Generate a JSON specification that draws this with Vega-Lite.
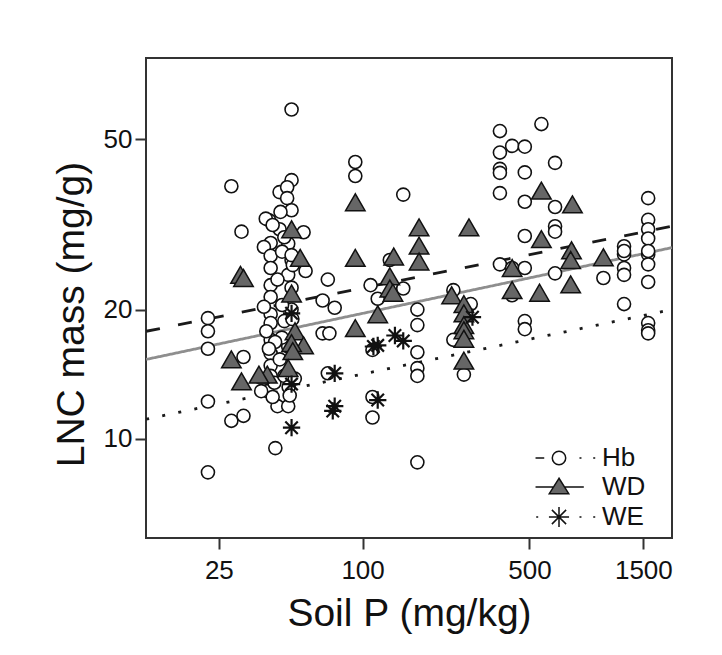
{
  "$schema": "https://vega.github.io/schema/vega-lite/v6.json",
  "width": 526,
  "height": 480,
  "autosize": "none",
  "padding": {"left": 146, "top": 58, "right": 50, "bottom": 117},
  "background": "white",
  "config": {
    "view": {"stroke": "#333", "strokeWidth": 2},
    "font": "Liberation Sans",
    "axis": {
      "domain": false, "grid": false, "tickColor": "#333", "tickWidth": 2, "tickSize": 11,
      "labelFont": "Liberation Sans", "labelFontSize": 26, "labelColor": "#111",
      "titleFont": "Liberation Sans", "titleFontSize": 39, "titleFontWeight": "normal", "titleColor": "#111"
    }
  },
  "resolve": {"scale": {"shape": "independent", "fill": "independent"}},
  "datasets": {
    "pts": [
      {"p":50.4,"n":58.6,"g":"Hb"},{"p":28.2,"n":38.8,"g":"Hb"},{"p":31.1,"n":30.4,"g":"Hb"},{"p":50.4,"n":40.1,"g":"Hb"},
      {"p":44.9,"n":37.6,"g":"Hb"},{"p":48.3,"n":38.6,"g":"Hb"},{"p":48.3,"n":36.4,"g":"Hb"},{"p":50.4,"n":34.1,"g":"Hb"},
      {"p":45.3,"n":33.8,"g":"Hb"},{"p":40.6,"n":32.3,"g":"Hb"},{"p":39.3,"n":32.6,"g":"Hb"},{"p":56.6,"n":30.3,"g":"Hb"},
      {"p":41.2,"n":28.6,"g":"Hb"},{"p":48.8,"n":28.5,"g":"Hb"},{"p":38.6,"n":28.0,"g":"Hb"},{"p":93.2,"n":44.2,"g":"Hb"},
      {"p":93.2,"n":41.0,"g":"Hb"},{"p":148,"n":37.1,"g":"Hb"},{"p":376,"n":52.2,"g":"Hb"},{"p":561,"n":54.2,"g":"Hb"},
      {"p":423,"n":48.2,"g":"Hb"},{"p":478,"n":48.0,"g":"Hb"},{"p":376,"n":46.5,"g":"Hb"},{"p":376,"n":42.6,"g":"Hb"},
      {"p":376,"n":41.7,"g":"Hb"},{"p":478,"n":41.8,"g":"Hb"},{"p":640,"n":44.0,"g":"Hb"},{"p":376,"n":37.4,"g":"Hb"},
      {"p":478,"n":35.7,"g":"Hb"},{"p":640,"n":34.7,"g":"Hb"},{"p":640,"n":31.3,"g":"Hb"},{"p":640,"n":30.4,"g":"Hb"},
      {"p":478,"n":29.7,"g":"Hb"},{"p":1571,"n":36.4,"g":"Hb"},{"p":1571,"n":32.4,"g":"Hb"},{"p":1571,"n":30.8,"g":"Hb"},
      {"p":1571,"n":29.3,"g":"Hb"},{"p":1245,"n":28.1,"g":"Hb"},{"p":1245,"n":26.9,"g":"Hb"},{"p":1571,"n":26.9,"g":"Hb"},
      {"p":41.2,"n":26.7,"g":"Hb"},{"p":50.4,"n":26.1,"g":"Hb"},{"p":57.7,"n":24.6,"g":"Hb"},{"p":41.2,"n":25.0,"g":"Hb"},
      {"p":71.5,"n":23.5,"g":"Hb"},{"p":130,"n":26.1,"g":"Hb"},{"p":108,"n":22.8,"g":"Hb"},{"p":148,"n":22.4,"g":"Hb"},
      {"p":115.7,"n":21.2,"g":"Hb"},{"p":68,"n":21.0,"g":"Hb"},{"p":76.4,"n":20.2,"g":"Hb"},{"p":41.2,"n":22.8,"g":"Hb"},
      {"p":41.2,"n":21.4,"g":"Hb"},{"p":41.2,"n":19.5,"g":"Hb"},{"p":41.2,"n":18.6,"g":"Hb"},{"p":41.2,"n":17.0,"g":"Hb"},
      {"p":41.2,"n":15.8,"g":"Hb"},{"p":41.2,"n":14.8,"g":"Hb"},{"p":39.9,"n":12.9,"g":"Hb"},{"p":44,"n":11.9,"g":"Hb"},
      {"p":48.8,"n":11.9,"g":"Hb"},{"p":48.8,"n":16.4,"g":"Hb"},{"p":48.8,"n":24.1,"g":"Hb"},{"p":50.4,"n":20.0,"g":"Hb"},
      {"p":22.5,"n":19.1,"g":"Hb"},{"p":22.5,"n":17.8,"g":"Hb"},{"p":22.5,"n":16.2,"g":"Hb"},{"p":22.5,"n":12.2,"g":"Hb"},
      {"p":31.7,"n":15.5,"g":"Hb"},{"p":28.2,"n":11.0,"g":"Hb"},{"p":31.7,"n":11.3,"g":"Hb"},{"p":68,"n":17.6,"g":"Hb"},
      {"p":72.6,"n":17.6,"g":"Hb"},{"p":71.5,"n":14.2,"g":"Hb"},{"p":110,"n":16.1,"g":"Hb"},{"p":110,"n":12.5,"g":"Hb"},
      {"p":110,"n":11.2,"g":"Hb"},{"p":169.6,"n":20.0,"g":"Hb"},{"p":169.6,"n":18.4,"g":"Hb"},{"p":169.6,"n":15.9,"g":"Hb"},
      {"p":169.6,"n":14.6,"g":"Hb"},{"p":169.6,"n":14.0,"g":"Hb"},{"p":240,"n":22.2,"g":"Hb"},{"p":240,"n":17.0,"g":"Hb"},
      {"p":265.6,"n":14.1,"g":"Hb"},{"p":283.8,"n":20.6,"g":"Hb"},{"p":376,"n":25.5,"g":"Hb"},{"p":423,"n":25.0,"g":"Hb"},
      {"p":478,"n":25.0,"g":"Hb"},{"p":423,"n":21.6,"g":"Hb"},{"p":478,"n":18.8,"g":"Hb"},{"p":478,"n":18.0,"g":"Hb"},
      {"p":640,"n":24.3,"g":"Hb"},{"p":1020,"n":23.7,"g":"Hb"},{"p":1245,"n":27.4,"g":"Hb"},{"p":1245,"n":25.0,"g":"Hb"},
      {"p":1245,"n":24.1,"g":"Hb"},{"p":1245,"n":20.6,"g":"Hb"},{"p":1571,"n":27.4,"g":"Hb"},{"p":1571,"n":25.5,"g":"Hb"},
      {"p":1571,"n":23.2,"g":"Hb"},{"p":1571,"n":18.6,"g":"Hb"},{"p":1571,"n":17.9,"g":"Hb"},{"p":1571,"n":17.6,"g":"Hb"},
      {"p":45.9,"n":17.2,"g":"Hb"},{"p":41.2,"n":14.0,"g":"Hb"},{"p":42.7,"n":13.5,"g":"Hb"},{"p":42,"n":12.5,"g":"Hb"},
      {"p":37.6,"n":12.9,"g":"Hb"},{"p":22.5,"n":8.34,"g":"Hb"},{"p":43.1,"n":9.5,"g":"Hb"},{"p":169.6,"n":8.8,"g":"Hb"},
      {"p":44,"n":23.5,"g":"Hb"},{"p":46,"n":20.5,"g":"Hb"},{"p":47,"n":18.8,"g":"Hb"},{"p":43,"n":16.8,"g":"Hb"},
      {"p":45,"n":15.3,"g":"Hb"},{"p":47,"n":14.0,"g":"Hb"},{"p":49,"n":13.2,"g":"Hb"},{"p":50.4,"n":22.5,"g":"Hb"},
      {"p":46,"n":27.3,"g":"Hb"},{"p":44.9,"n":30.8,"g":"Hb"},{"p":42,"n":31.5,"g":"Hb"},{"p":51,"n":25.4,"g":"Hb"},
      {"p":38.6,"n":20.3,"g":"Hb"},{"p":39.5,"n":17.8,"g":"Hb"},{"p":40.5,"n":16.2,"g":"Hb"},{"p":47,"n":29.5,"g":"Hb"},
      {"p":50.4,"n":26.8,"g":"Hb"},{"p":52,"n":13.8,"g":"Hb"},{"p":49.5,"n":12.6,"g":"Hb"},{"p":50.8,"n":19.0,"g":"Hb"},
      {"p":93.2,"n":35.6,"g":"WD"},{"p":561,"n":37.9,"g":"WD"},{"p":757,"n":35.2,"g":"WD"},{"p":50.4,"n":30.8,"g":"WD"},
      {"p":172.4,"n":31.1,"g":"WD"},{"p":279,"n":31.1,"g":"WD"},{"p":172.4,"n":28.2,"g":"WD"},{"p":561,"n":29.2,"g":"WD"},
      {"p":750,"n":27.5,"g":"WD"},{"p":135,"n":26.6,"g":"WD"},{"p":93.2,"n":26.4,"g":"WD"},{"p":1020,"n":26.5,"g":"WD"},
      {"p":54.8,"n":26.4,"g":"WD"},{"p":30.8,"n":24.1,"g":"WD"},{"p":31.7,"n":23.7,"g":"WD"},{"p":172.4,"n":25.9,"g":"WD"},
      {"p":130,"n":23.9,"g":"WD"},{"p":130,"n":22.4,"g":"WD"},{"p":134,"n":21.9,"g":"WD"},{"p":50.4,"n":21.8,"g":"WD"},
      {"p":115.7,"n":19.5,"g":"WD"},{"p":93.2,"n":18.1,"g":"WD"},{"p":52.1,"n":17.8,"g":"WD"},{"p":56.6,"n":16.5,"g":"WD"},
      {"p":50.4,"n":16.7,"g":"WD"},{"p":51,"n":16.0,"g":"WD"},{"p":48.8,"n":14.6,"g":"WD"},{"p":28.2,"n":15.3,"g":"WD"},
      {"p":31.1,"n":13.6,"g":"WD"},{"p":39.9,"n":14.1,"g":"WD"},{"p":36.8,"n":14.1,"g":"WD"},{"p":236,"n":21.6,"g":"WD"},
      {"p":265.6,"n":20.6,"g":"WD"},{"p":265.6,"n":19.6,"g":"WD"},{"p":265.6,"n":18.4,"g":"WD"},{"p":265.6,"n":17.9,"g":"WD"},
      {"p":265.6,"n":17.1,"g":"WD"},{"p":265.6,"n":15.2,"g":"WD"},{"p":423,"n":25.0,"g":"WD"},{"p":423,"n":22.2,"g":"WD"},
      {"p":551,"n":21.9,"g":"WD"},{"p":744,"n":22.9,"g":"WD"},{"p":744,"n":26.1,"g":"WD"},
      {"p":50.4,"n":19.6,"g":"WE"},{"p":50.4,"n":13.4,"g":"WE"},{"p":50.4,"n":10.6,"g":"WE"},{"p":76.4,"n":14.2,"g":"WE"},
      {"p":76.4,"n":11.9,"g":"WE"},{"p":75,"n":11.6,"g":"WE"},{"p":115.7,"n":16.5,"g":"WE"},{"p":111,"n":16.4,"g":"WE"},
      {"p":136.6,"n":17.4,"g":"WE"},{"p":148,"n":16.9,"g":"WE"},{"p":115.7,"n":12.3,"g":"WE"},{"p":288.5,"n":19.2,"g":"WE"}
    ],
    "fits": [
      {"p":12.4,"n":17.8,"g":"Hb"},{"p":1975,"n":31.3,"g":"Hb"},
      {"p":12.4,"n":15.3,"g":"WD"},{"p":1975,"n":27.9,"g":"WD"},
      {"p":12.4,"n":11.1,"g":"WE"},{"p":1975,"n":20.0,"g":"WE"}
    ]
  },
  "layer": [
    {
      "data": {"name": "fits"},
      "mark": {"type": "line", "strokeWidth": 2.8, "clip": true},
      "encoding": {
        "x": {"field": "p", "type": "quantitative", "title": "Soil P (mg/kg)",
              "scale": {"type": "log", "domain": [12.38, 1977], "nice": false, "zero": false},
              "axis": {"values": [25, 100, 500, 1500], "format": "d", "labelPadding": 8, "titlePadding": 11}},
        "y": {"field": "n", "type": "quantitative", "title": "LNC mass (mg/g)",
              "scale": {"type": "log", "domain": [5.86, 77.3], "nice": false, "zero": false},
              "axis": {"values": [10, 20, 50], "format": "d", "labelPadding": 3, "titlePadding": 12, "titleY": 256}},
        "color": {"field": "g", "type": "nominal", "scale": {"domain": ["WE", "WD", "Hb"], "range": ["#1a1a1a", "#8e8e8e", "#1a1a1a"]}, "legend": null},
        "strokeDash": {"field": "g", "type": "nominal", "scale": {"domain": ["WE", "WD", "Hb"], "range": [[3, 13.4], [1, 0], [14, 18.5]]}, "legend": null}
      }
    },
    {
      "data": {"name": "pts"},
      "mark": {"type": "point", "filled": true, "stroke": "#111", "opacity": 1},
      "encoding": {
        "x": {"field": "p", "type": "quantitative"},
        "y": {"field": "n", "type": "quantitative"},
        "shape": {"field": "g", "type": "nominal",
                  "scale": {"domain": ["WE", "WD", "Hb"], "range": ["M0,-1L0,1M-1,0L1,0M-0.72,-0.72L0.72,0.72M-0.72,0.72L0.72,-0.72", "triangle-up", "circle"]},
                  "legend": null},
        "fill": {"field": "g", "type": "nominal", "scale": {"domain": ["WE", "WD", "Hb"], "range": ["#111111", "#666666", "white"]}, "legend": null},
        "size": {"field": "g", "type": "nominal", "scale": {"type": "ordinal", "domain": ["WE", "WD", "Hb"], "range": [300, 380, 170]}, "legend": null},
        "strokeWidth": {"field": "g", "type": "nominal", "scale": {"type": "ordinal", "domain": ["WE", "WD", "Hb"], "range": [2.2, 1.5, 1.6]}, "legend": null}
      }
    },
    {
      "data": {"name": "fits"},
      "mark": {"type": "point", "filled": true, "stroke": "#111", "strokeWidth": 1.8, "opacity": 0},
      "encoding": {
        "x": {"field": "p", "type": "quantitative"},
        "y": {"field": "n", "type": "quantitative"},
        "shape": {"field": "g", "type": "nominal",
                  "scale": {"domain": ["Hb", "WD", "WE"], "range": [
                    "M-3.5,0H-2.2M-1,0A1,1 0 1,1 1,0A1,1 0 1,1 -1,0ZM3.05,0H3.35M5.1,0H5.4",
                    "M-3.5,0H-0.82M0.82,0H3.7M0,-1.3L-1.45,1L1.45,1Z",
                    "M-3.4,0H-3.1M0,-1.5V1.5M-1.5,0H1.5M-1.06,-1.06L1.06,1.06M-1.06,1.06L1.06,-1.06M3.05,0H3.35M5.1,0H5.4"]},
                  "legend": {
                    "title": null, "orient": "none", "legendX": 400, "legendY": 387,
                    "labelFont": "Liberation Sans", "labelFontSize": 26, "labelColor": "#111",
                    "symbolSize": 180, "labelOffset": 30, "rowPadding": 3, "symbolOpacity": 1,
                    "encode": {"symbols": {"stroke": {"value": "#111111"}, "strokeWidth": {"value": 1.8}}}
                  }},
        "fill": {"field": "g", "type": "nominal", "scale": {"domain": ["Hb", "WD", "WE"], "range": ["white", "#666666", "white"]},
                 "legend": {
                    "title": null, "orient": "none", "legendX": 400, "legendY": 387,
                    "labelFont": "Liberation Sans", "labelFontSize": 26, "labelColor": "#111",
                    "symbolSize": 180, "labelOffset": 30, "rowPadding": 3, "symbolOpacity": 1,
                    "encode": {"symbols": {"stroke": {"value": "#111111"}, "strokeWidth": {"value": 1.8}}}
                 }}
      }
    }
  ]
}
